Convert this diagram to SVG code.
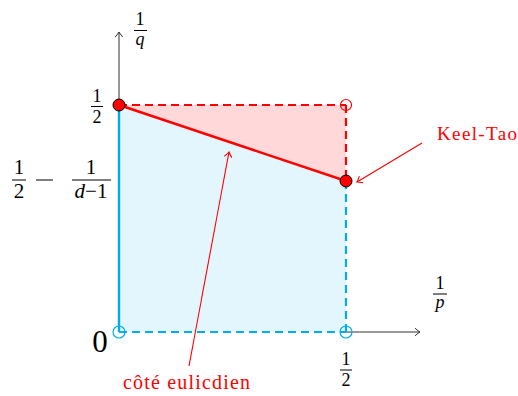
<svg xmlns="http://www.w3.org/2000/svg" width="518" height="396" viewBox="0 0 518 396">
<style>
.t{font-family:"Liberation Serif","DejaVu Serif",serif;fill:#000}
.ti{font-family:"Liberation Serif","DejaVu Serif",serif;font-style:italic;fill:#000}
.red{font-family:"Liberation Serif","DejaVu Serif",serif;fill:#ff0000}
.axis{stroke:#333;stroke-width:1;fill:none}
.bar{stroke:#000;stroke-width:1}
.ann{stroke:#ff0000;stroke-width:1.1;fill:none}
</style>
<defs>
<marker id="ahk" markerUnits="userSpaceOnUse" markerWidth="12" markerHeight="12" viewBox="-8 -6 10 12" refX="0" refY="0" orient="auto">
<path d="M-5,-3.8 Q-1.5,-0.8 0,0 Q-1.5,0.8 -5,3.8" fill="none" stroke="#333" stroke-width="1"/>
</marker>
<marker id="ahr" markerUnits="userSpaceOnUse" markerWidth="12" markerHeight="12" viewBox="-8 -6 10 12" refX="0" refY="0" orient="auto">
<path d="M-5,-3.8 Q-1.5,-0.8 0,0 Q-1.5,0.8 -5,3.8" fill="none" stroke="#ff0000" stroke-width="1.1"/>
</marker>
</defs>

<g id="regions">
<polygon points="119,332 346,332 346,181 119,105" fill="#e4f6fd"/>
<polygon points="119,105 346,105 346,181" fill="#ffd9d9"/>
</g>

<g id="connectors">
<line class="axis" x1="119" y1="105" x2="119" y2="32" marker-end="url(#ahk)"/>
<line class="axis" x1="346" y1="332" x2="420" y2="332" marker-end="url(#ahk)"/>
<line x1="119" y1="332" x2="119" y2="105" stroke="#00aeef" stroke-width="2.4"/>
<line x1="119" y1="332" x2="346" y2="332" stroke="#00aeef" stroke-width="2.2" stroke-dasharray="8 5"/>
<line x1="346" y1="332" x2="346" y2="181" stroke="#00aeef" stroke-width="2.2" stroke-dasharray="8 5"/>
<line x1="119" y1="105" x2="346" y2="105" stroke="#ff0000" stroke-width="2.2" stroke-dasharray="8 5"/>
<line x1="346" y1="105" x2="346" y2="181" stroke="#ff0000" stroke-width="2.2" stroke-dasharray="8 5"/>
<line x1="119" y1="105" x2="346" y2="181" stroke="#ff0000" stroke-width="2.5"/>
<line class="ann" x1="422" y1="143" x2="357" y2="182" marker-end="url(#ahr)"/>
<line class="ann" x1="189" y1="366" x2="229" y2="152" marker-end="url(#ahr)"/>
</g>

<g id="p-origin"><circle cx="119" cy="332" r="6" fill="none" stroke="#00aeef" stroke-width="1.2"/></g>
<g id="p-half0"><circle cx="346" cy="332" r="6" fill="none" stroke="#00aeef" stroke-width="1.2"/></g>
<g id="p-halfhalf"><circle cx="346" cy="105" r="5.5" fill="none" stroke="#ff0000" stroke-width="1.2"/></g>
<g id="p-top"><circle cx="119" cy="105" r="6" fill="#ff0000" stroke="#000" stroke-width="1"/></g>
<g id="p-keeltao"><circle cx="346" cy="181" r="6" fill="#ff0000" stroke="#000" stroke-width="1"/></g>

<g id="label-q">
<text class="t" x="140" y="25" font-size="18" text-anchor="middle">1</text>
<line class="bar" x1="134" y1="30.5" x2="147" y2="30.5"/>
<text class="ti" x="140" y="45" font-size="18" text-anchor="middle">q</text>
</g>
<g id="label-p">
<text class="t" x="440" y="289" font-size="18" text-anchor="middle">1</text>
<line class="bar" x1="433" y1="294" x2="447" y2="294"/>
<text class="ti" x="440" y="308" font-size="18" text-anchor="middle">p</text>
</g>
<g id="label-half-y">
<text class="t" x="97" y="102" font-size="18" text-anchor="middle">1</text>
<line class="bar" x1="91" y1="106.5" x2="103" y2="106.5"/>
<text class="t" x="97" y="123" font-size="18" text-anchor="middle">2</text>
</g>
<g id="label-half-x">
<text class="t" x="346" y="365" font-size="18" text-anchor="middle">1</text>
<line class="bar" x1="340" y1="370" x2="352" y2="370"/>
<text class="t" x="346" y="386" font-size="18" text-anchor="middle">2</text>
</g>
<g id="label-kt-y">
<text class="t" x="19" y="174" font-size="21" text-anchor="middle">1</text>
<line class="bar" x1="12" y1="180" x2="26" y2="180"/>
<text class="t" x="19" y="198" font-size="21" text-anchor="middle">2</text>
<line class="bar" x1="36" y1="180" x2="53" y2="180"/>
<text class="t" x="91" y="174" font-size="21" text-anchor="middle">1</text>
<line class="bar" x1="72" y1="180" x2="111" y2="180"/>
<text x="91" y="198" font-size="21" text-anchor="middle" class="t"><tspan font-style="italic">d</tspan>−1</text>
</g>
<g id="label-0">
<text class="t" x="100" y="352" font-size="31" text-anchor="middle">0</text>
</g>
<g id="label-keeltao">
<text class="red" x="437" y="140" font-size="19" textLength="80" lengthAdjust="spacing">Keel-Tao</text>
</g>
<g id="label-euclid">
<text class="red" x="123" y="389" font-size="20" textLength="127" lengthAdjust="spacing">côté eulicdien</text>
</g>
</svg>
